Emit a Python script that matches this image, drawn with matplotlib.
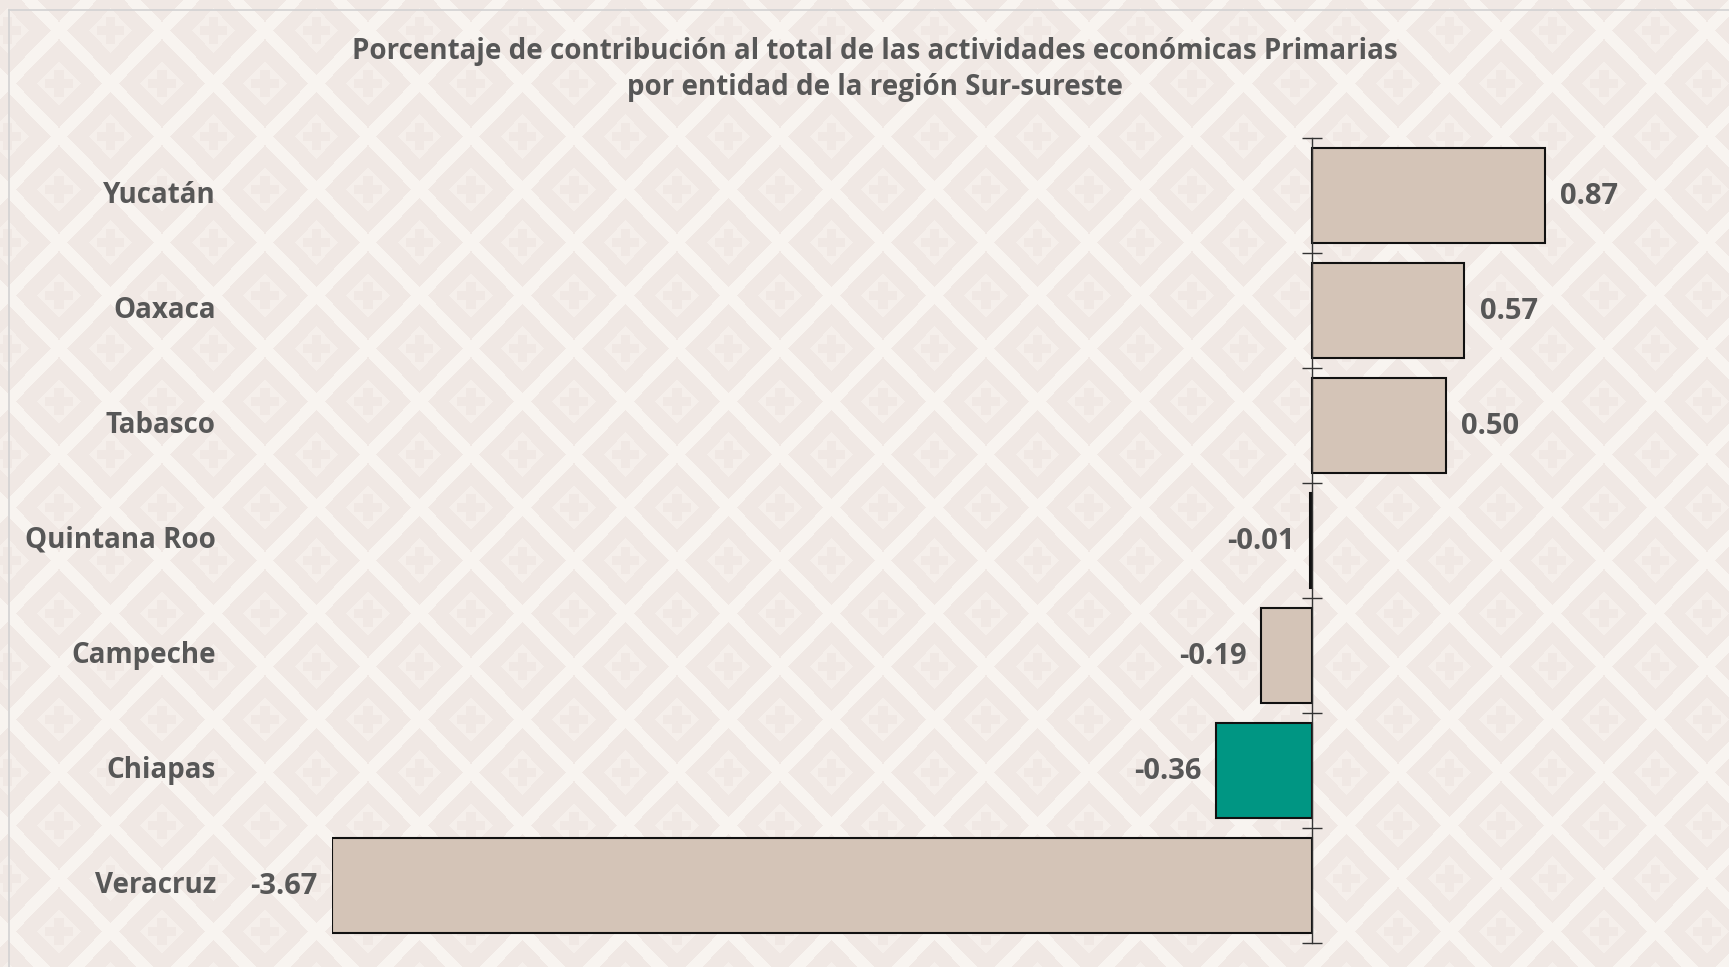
import numpy as np
import matplotlib
matplotlib.use('Agg')
import matplotlib.pyplot as plt
from matplotlib.lines import Line2D
from matplotlib.transforms import blended_transform_factory

# data
estados = ['Yucatán', 'Oaxaca', 'Tabasco', 'Quintana Roo', 'Campeche', 'Chiapas', 'Veracruz']
valores = [0.87, 0.57, 0.50, -0.01, -0.19, -0.36, -3.67]
destacado = 'Chiapas'
titulo_1 = 'Porcentaje de contribución al total de las actividades económicas Primarias'
titulo_2 = 'por entidad de la región Sur-sureste'

W, H = 1729, 967
TXT = '#575757'
plt.rcParams['font.family'] = ['Open Sans', 'DejaVu Sans']


def fondo(w, h):
    # decorative diamond / cross tile pattern
    yy, xx = np.mgrid[0:h, 0:w].astype(float)
    best_d = np.full((h, w), 9.0)
    best_x = np.zeros((h, w))
    best_y = np.zeros((h, w))
    for cx0, cy0 in [(110, 30), (58.5, 83)]:
        dx = np.mod(xx - cx0 + 51.5, 103) - 51.5
        dy = np.mod(yy - cy0 + 53, 106) - 53
        d = np.abs(dx) / 51.5 + np.abs(dy) / 53
        m = d < best_d
        best_d[m] = d[m]
        best_x[m] = dx[m]
        best_y[m] = dy[m]
    light = np.array([248, 244, 240])
    dark = np.array([240, 232, 228])
    inner = np.array([245, 239, 235])
    img = np.empty((h, w, 3))
    img[:] = dark
    img[best_d > 0.84] = light
    img[best_d <= 0.42] = inner
    ax_, ay_ = np.abs(best_x), np.abs(best_y)
    cruz = ((ax_ < 5) & (ay_ < 14)) | ((ax_ < 14) & (ay_ < 5))
    img[cruz] = dark
    return img / 255.0


fig = plt.figure(figsize=(W / 100, H / 100), dpi=100)
bg = fig.add_axes([0, 0, 1, 1], zorder=-5)
bg.imshow(fondo(W, H), aspect='auto', interpolation='nearest')
bg.axis('off')

# thin frame
fig.add_artist(Line2D([9 / W, 9 / W], [0, 1 - 10 / H], transform=fig.transFigure, color='#d2d2d2', lw=1.2))
fig.add_artist(Line2D([9 / W, 1], [1 - 10 / H, 1 - 10 / H], transform=fig.transFigure, color='#d2d2d2', lw=1.2))

ax = fig.add_axes([331.9 / W, 0.02503, 0.7678, 0.8325])
ax.patch.set_alpha(0)

pos = np.arange(len(estados))
colores = ['#009683' if e == destacado else '#d4c4b7' for e in estados]
ax.barh(pos, valores, height=0.83, color=colores, edgecolor='#111111', linewidth=1.5, zorder=2)

ax.set_xlim(-3.67, 1.3)
ax.set_ylim(len(estados) - 0.5, -0.5)

for s in ['top', 'right', 'bottom']:
    ax.spines[s].set_visible(False)
ax.spines['left'].set_position(('data', 0))
ax.spines['left'].set_color('#333333')
ax.spines['left'].set_linewidth(1.0)
ax.spines['left'].set_zorder(3)
ax.set_xticks([])
ax.set_yticks(np.arange(-0.5, len(estados), 1.0))
ax.set_yticklabels([])
ax.tick_params(axis='y', direction='inout', length=14, width=1.0, color='#333333')

trans_lbl = blended_transform_factory(fig.transFigure, ax.transData)
for p, v, e in zip(pos, valores, estados):
    if v >= 0:
        ax.annotate(f'{v:.2f}', (v, p), xytext=(11, -1), textcoords='offset points',
                    ha='left', va='center', fontsize=21, fontweight='bold', color=TXT)
    else:
        ax.annotate(f'{v:.2f}', (v, p), xytext=(-10.5, -1), textcoords='offset points',
                    ha='right', va='center', fontsize=21, fontweight='bold', color=TXT)
    ax.text(216 / W, p, e, transform=trans_lbl,
            ha='right', va='center', fontsize=20, fontweight='bold', color=TXT)

fig.text(0.506, 1 - 52 / H, titulo_1, ha='center', va='center', fontsize=20, fontweight='bold', color=TXT)
fig.text(0.506, 1 - 87 / H, titulo_2, ha='center', va='center', fontsize=20, fontweight='bold', color=TXT)

fig.savefig('out.png', dpi=100)
